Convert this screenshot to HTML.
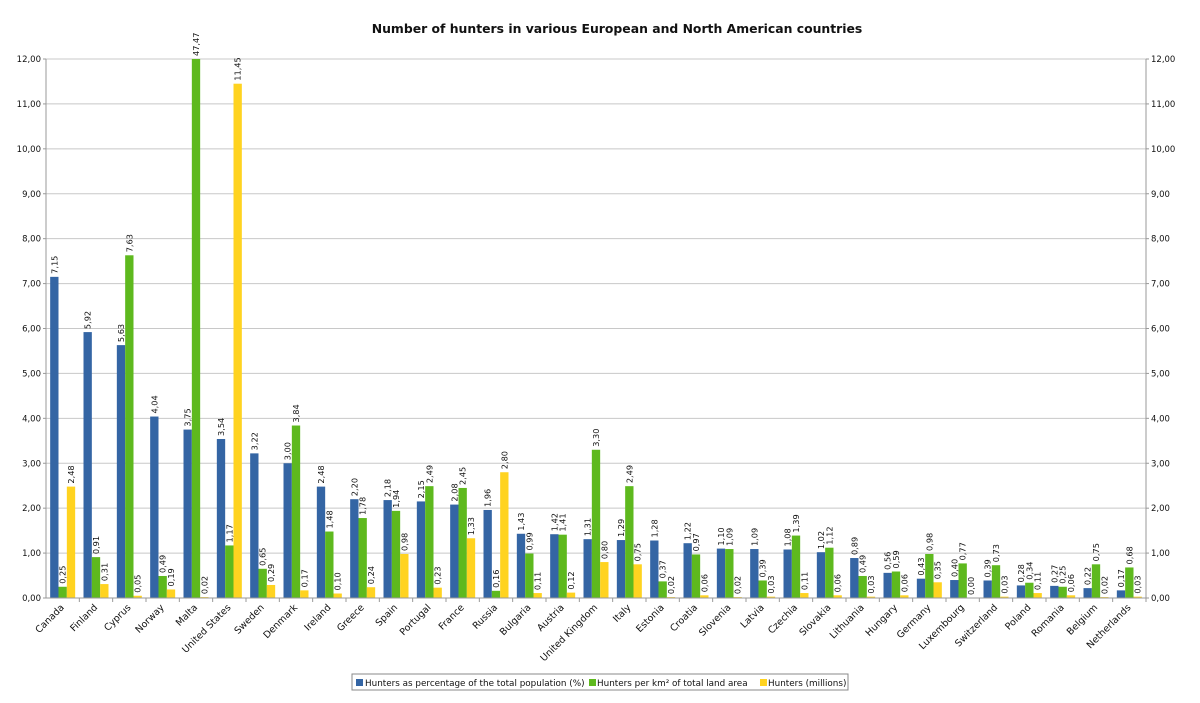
<!DOCTYPE html>
<html><head><meta charset="utf-8"><style>
body{margin:0;background:#fff;}
svg{font-family:"DejaVu Sans","Liberation Sans",sans-serif;}
</style></head><body>
<svg id="chart" width="1200" height="698" xmlns="http://www.w3.org/2000/svg">
<text x="617" y="33" text-anchor="middle" font-size="12.4" font-weight="bold" fill="#111">Number of hunters in various European and North American countries</text>
<g id="grid"></g><g id="bars"></g><g id="axes"></g>
<g>
<rect x="352" y="674" width="496" height="16" fill="#fff" stroke="#888"/>
<rect x="356" y="679" width="7" height="7" fill="#3465a4"/>
<text x="365" y="686" font-size="8.8" fill="#111">Hunters as percentage of the total population (%)</text>
<rect x="589" y="679" width="7" height="7" fill="#5eb91e"/>
<text x="597" y="686" font-size="8.8" fill="#111">Hunters per km² of total land area</text>
<rect x="760" y="679" width="7" height="7" fill="#ffd320"/>
<text x="768" y="686" font-size="8.8" fill="#111">Hunters (millions)</text>
</g>
</svg>
<script>
const categories=["Canada","Finland","Cyprus","Norway","Malta","United States","Sweden","Denmark","Ireland","Greece","Spain","Portugal","France","Russia","Bulgaria","Austria","United Kingdom","Italy","Estonia","Croatia","Slovenia","Latvia","Czechia","Slovakia","Lithuania","Hungary","Germany","Luxembourg","Switzerland","Poland","Romania","Belgium","Netherlands"];
const pctPopulation=[7.15,5.92,5.63,4.04,3.75,3.54,3.22,3.00,2.48,2.20,2.18,2.15,2.08,1.96,1.43,1.42,1.31,1.29,1.28,1.22,1.10,1.09,1.08,1.02,0.89,0.56,0.43,0.40,0.39,0.28,0.27,0.22,0.17];
const perKm2=[0.25,0.91,7.63,0.49,47.47,1.17,0.65,3.84,1.48,1.78,1.94,2.49,2.45,0.16,0.99,1.41,3.30,2.49,0.37,0.97,1.09,0.39,1.39,1.12,0.49,0.59,0.98,0.77,0.73,0.34,0.25,0.75,0.68];
const millions=[2.48,0.31,0.05,0.19,0.02,11.45,0.29,0.17,0.10,0.24,0.98,0.23,1.33,2.80,0.11,0.12,0.80,0.75,0.02,0.06,0.02,0.03,0.11,0.06,0.03,0.06,0.35,0.00,0.03,0.11,0.06,0.02,0.03];
const yTicks=[0,1,2,3,4,5,6,7,8,9,10,11,12];
const NS="http://www.w3.org/2000/svg";
const L=46,R=1146,T=59,B=598,YMAX=12;
const band=(R-L)/categories.length;
const y=v=>B-Math.min(v,YMAX)/YMAX*(B-T);
const fmt=v=>v.toFixed(2).replace('.',',');
function mk(tag,attrs,parent,txt){const e=document.createElementNS(NS,tag);for(const k in attrs)e.setAttribute(k,attrs[k]);if(txt!==undefined)e.textContent=txt;parent.appendChild(e);return e;}
const grid=document.getElementById('grid'),bars=document.getElementById('bars'),axes=document.getElementById('axes');
yTicks.forEach(t=>{
  const g=mk('line',{x1:L,x2:R,y1:y(t),y2:y(t),stroke:'#c8c8c8','stroke-width':1},grid);
  
  
  const a=mk('text',{x:L-5,y:y(t)+3,'text-anchor':'end','font-size':8.5,fill:'#111'},axes,fmt(t));
  
  
  const b=mk('text',{x:R+5,y:y(t)+3,'font-size':8.5,fill:'#111'},axes,fmt(t));
  
  
  mk('line',{x1:L-3,x2:L,y1:y(t),y2:y(t),stroke:'#999'},axes);
  mk('line',{x1:R,x2:R+3,y1:y(t),y2:y(t),stroke:'#999'},axes);
});
mk('line',{x1:L,x2:L,y1:T,y2:B,stroke:'#999'},axes);
mk('line',{x1:R,x2:R,y1:T,y2:B,stroke:'#999'},axes);
mk('line',{x1:L,x2:R,y1:B,y2:B,stroke:'#999'},axes);
const series=[[pctPopulation,'#3465a4'],[perKm2,'#5eb91e'],[millions,'#ffd320']];
const bw=band/4;
categories.forEach((c,i)=>{
  const x0=L+i*band+bw/2;
  series.forEach(([arr,col],s)=>{
    const v=arr[i],bx=x0+s*bw,top=y(v);
    const r=mk('rect',{x:bx,y:top,width:bw,height:B-top,fill:col},bars);
    
    
    const tx=bx+bw/2+3,ty=top-3;
    const lb=mk('text',{x:tx,y:ty,transform:`rotate(-90 ${tx} ${ty})`,'font-size':8.2,fill:'#111'},bars,fmt(v));
    
    
  });
  mk('line',{x1:L+(i+1)*band,x2:L+(i+1)*band,y1:B,y2:B+4,stroke:'#999'},axes);
  const cx=L+i*band+band/2+2,cy=B+10;
  const cl=mk('text',{x:cx,y:cy,transform:`rotate(-45 ${cx} ${cy})`,'text-anchor':'end','font-size':9.5,fill:'#111'},axes,c);
  
  
});
</script>
</body></html>
